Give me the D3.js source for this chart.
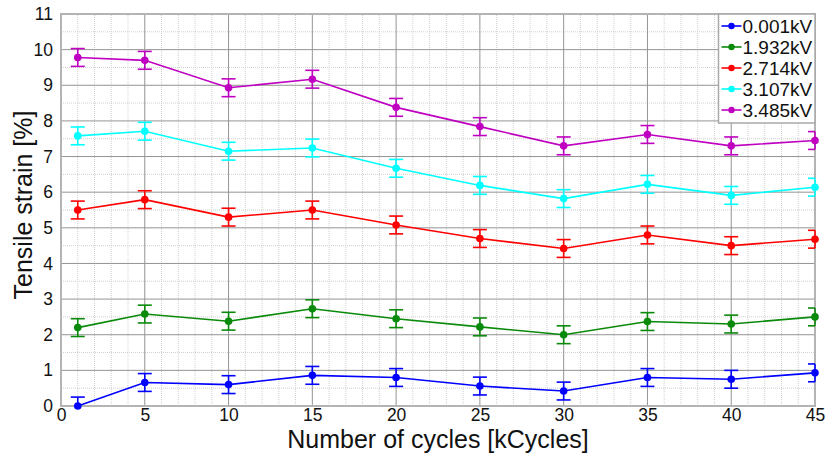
<html>
<head>
  <script src='https://d3js.org/d3.v7.min.js'></script>
  <style>
    body { margin: 0; background: #fff; }
    text { font-family: 'Liberation Sans', Arial, sans-serif; }
  </style>
</head>
<body>
<script>

// data
var cycles = [1, 5, 10, 15, 20, 25, 30, 35, 40, 45];
var seriesNames = ['0.001kV', '1.932kV', '2.714kV', '3.107kV', '3.485kV'];
var seriesColors = ['#0000ff', '#0a8a0a', '#ff0000', '#00ffff', '#c000c0'];
var strain001 = [0.00, 0.66, 0.60, 0.86, 0.80, 0.56, 0.42, 0.80, 0.75, 0.93];
var strain1932 = [2.20, 2.58, 2.38, 2.73, 2.45, 2.22, 2.00, 2.37, 2.30, 2.50];
var strain2714 = [5.50, 5.79, 5.30, 5.50, 5.08, 4.70, 4.42, 4.80, 4.50, 4.68];
var strain3107 = [7.58, 7.71, 7.15, 7.24, 6.67, 6.19, 5.82, 6.22, 5.91, 6.14];
var strain3485 = [9.78, 9.70, 8.93, 9.17, 8.38, 7.84, 7.30, 7.62, 7.30, 7.45];
var errHalf = 0.25;
var xTicks = [0, 5, 10, 15, 20, 25, 30, 35, 40, 45];
var yTicks = [0, 1, 2, 3, 4, 5, 6, 7, 8, 9, 10, 11];

var allSeries = [strain001, strain1932, strain2714, strain3107, strain3485];

var width = 826, height = 455;
var margin = {left: 61, right: 11, top: 14, bottom: 49};

var svg = d3.select('body').append('svg')
  .attr('width', width)
  .attr('height', height);

var x = d3.scaleLinear().domain([0, 45]).range([margin.left, width - margin.right]);
var y = d3.scaleLinear().domain([0, 11]).range([height - margin.bottom, margin.top]);

var grid = svg.append('g');

// minor grid
grid.selectAll('.mx')
  .data(d3.range(1, 45).filter(function(d){ return d % 5 != 0; }))
  .enter().append('line')
  .attr('x1', function(d){ return x(d); }).attr('x2', function(d){ return x(d); })
  .attr('y1', y(0)).attr('y2', y(11))
  .attr('stroke', '#d0d0d0').attr('stroke-width', 1).attr('stroke-dasharray', '1,1');
grid.selectAll('.my')
  .data(d3.range(0.5, 11, 1))
  .enter().append('line')
  .attr('y1', function(d){ return y(d); }).attr('y2', function(d){ return y(d); })
  .attr('x1', x(0)).attr('x2', x(45))
  .attr('stroke', '#d0d0d0').attr('stroke-width', 1).attr('stroke-dasharray', '1,1');

// major grid
grid.selectAll('.Mx')
  .data(xTicks.slice(1))
  .enter().append('line')
  .attr('x1', function(d){ return x(d); }).attr('x2', function(d){ return x(d); })
  .attr('y1', y(0)).attr('y2', y(11))
  .attr('stroke', '#949494').attr('stroke-width', 1);
grid.selectAll('.My')
  .data(yTicks.slice(1))
  .enter().append('line')
  .attr('y1', function(d){ return y(d); }).attr('y2', function(d){ return y(d); })
  .attr('x1', x(0)).attr('x2', x(45))
  .attr('stroke', '#949494').attr('stroke-width', 1);

// frame
svg.append('rect')
  .attr('x', x(0)).attr('y', y(11))
  .attr('width', x(45) - x(0)).attr('height', y(0) - y(11))
  .attr('fill', 'none').attr('stroke', '#b4b4b4').attr('stroke-width', 2);

// axes
var xAxis = svg.append('g')
  .attr('transform', 'translate(0,' + y(0) + ')')
  .call(d3.axisBottom(x).tickValues(xTicks).tickSize(0).tickPadding(3));
var yAxis = svg.append('g')
  .attr('transform', 'translate(' + x(0) + ',0)')
  .call(d3.axisLeft(y).tickValues(yTicks).tickSize(0).tickPadding(8));
[xAxis, yAxis].forEach(function(a){
  a.select('.domain').remove();
  a.selectAll('text').attr('font-size', 17.5).attr('fill', '#111')
    .attr('font-family', "'Liberation Sans', Arial, sans-serif");
});

// series
var line = d3.line()
  .x(function(d){ return x(d.c); })
  .y(function(d){ return y(d.v); });

allSeries.forEach(function(vals, k){
  var col = seriesColors[k];
  var pts = vals.map(function(v, i){ return {c: cycles[i], v: v}; });
  var g = svg.append('g');
  g.append('path').datum(pts)
    .attr('d', line).attr('fill', 'none')
    .attr('stroke', col).attr('stroke-width', 1.6);
  var eb = g.selectAll('.eb').data(pts).enter().append('g');
  eb.append('line')
    .attr('x1', function(d){ return x(d.c); })
    .attr('x2', function(d){ return x(d.c); })
    .attr('y1', function(d){ return y(Math.max(0, d.v - errHalf)); })
    .attr('y2', function(d){ return y(d.v + errHalf); })
    .attr('stroke', col).attr('stroke-width', 1.6);
  [-1, 1].forEach(function(s){
    eb.filter(function(d){ return d.v + s * errHalf >= 0; })
      .append('line')
      .attr('x1', function(d){ return Math.max(x(0), x(d.c) - 7); })
      .attr('x2', function(d){ return Math.min(x(45), x(d.c) + 7); })
      .attr('y1', function(d){ return y(d.v + s * errHalf); })
      .attr('y2', function(d){ return y(d.v + s * errHalf); })
      .attr('stroke', col).attr('stroke-width', 1.6);
  });
  eb.append('circle')
    .attr('cx', function(d){ return x(d.c); })
    .attr('cy', function(d){ return y(d.v); })
    .attr('r', 3.8).attr('fill', col);
});

// legend
var lg = svg.append('g').attr('transform', 'translate(718.5,14)');
lg.append('rect').attr('width', 96.5).attr('height', 109)
  .attr('fill', '#fff').attr('stroke', '#a8a8a8').attr('stroke-width', 1.5);
seriesNames.forEach(function(name, k){
  var yy = 12 + k * 21;
  lg.append('line').attr('x1', 3).attr('x2', 23).attr('y1', yy).attr('y2', yy)
    .attr('stroke', seriesColors[k]).attr('stroke-width', 1.6);
  lg.append('circle').attr('cx', 13).attr('cy', yy).attr('r', 3.2).attr('fill', seriesColors[k]);
  lg.append('text').attr('x', 24).attr('y', yy + 7)
    .attr('font-size', 19).attr('fill', '#111').text(name);
});

// titles
svg.append('text')
  .attr('x', (x(0) + x(45)) / 2).attr('y', 448)
  .attr('text-anchor', 'middle').attr('font-size', 25).attr('fill', '#111')
  .text('Number of cycles [kCycles]');
svg.append('text')
  .attr('transform', 'translate(32,205) rotate(-90)')
  .attr('text-anchor', 'middle').attr('font-size', 25).attr('fill', '#111')
  .text('Tensile strain [%]');

</script>
</body>
</html>
